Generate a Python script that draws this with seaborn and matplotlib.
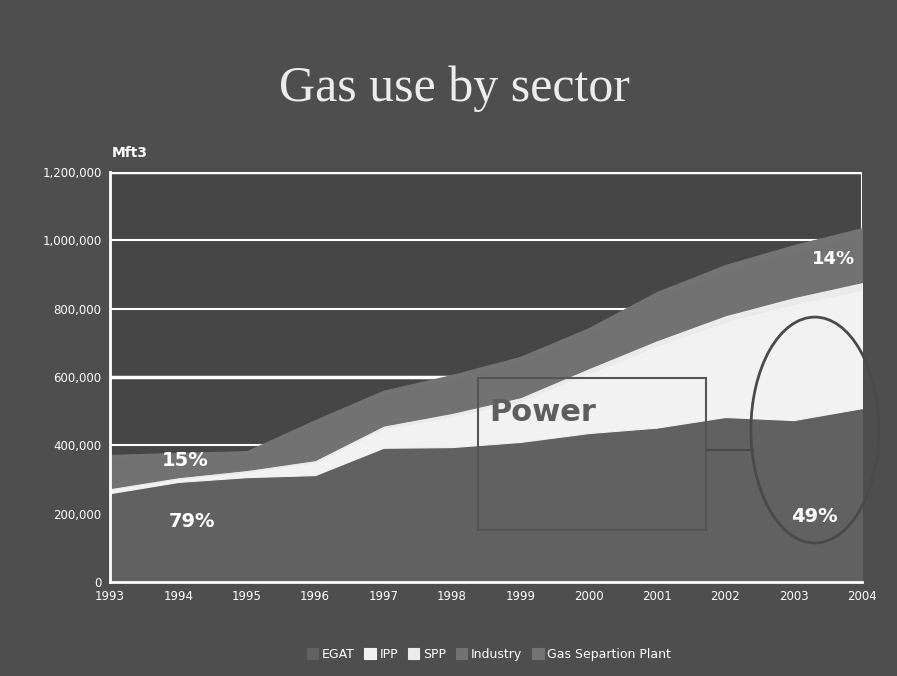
import numpy as np
import pandas as pd
import seaborn as sns
import matplotlib.pyplot as plt
from matplotlib.patches import Rectangle, Ellipse

# Data (Mft3)
years = [1993, 1994, 1995, 1996, 1997, 1998, 1999, 2000, 2001, 2002, 2003, 2004]
egat = [260000, 293000, 307000, 313000, 393000, 395000, 410000, 436000, 452000, 483000, 474000, 509000]
ipp = [12000, 10000, 16000, 38000, 57000, 90000, 119000, 176000, 240000, 280000, 340000, 347000]
spp = [3000, 4000, 5000, 6000, 8000, 10000, 12000, 14000, 16000, 18000, 20000, 22000]
industry = [87000, 61000, 45000, 105000, 88000, 96000, 102000, 99000, 121000, 125000, 128000, 133000]
gas_sep = [10000, 10000, 10000, 12000, 14000, 15000, 16000, 18000, 20000, 22000, 24000, 25000]

sectors = ["EGAT", "IPP", "SPP", "Industry", "Gas Separtion Plant"]
colors = ["#616161", "#f2f2f2", "#ebebeb", "#727272", "#737373"]

y_ticks = [0, 200000, 400000, 600000, 800000, 1000000, 1200000]

df = pd.DataFrame({"year": years, "EGAT": egat, "IPP": ipp, "SPP": spp,
                   "Industry": industry, "Gas Separtion Plant": gas_sep})

sns.set_theme(style="dark", rc={
    "figure.facecolor": "#4e4e4e",
    "axes.facecolor": "#464646",
    "text.color": "white",
    "xtick.color": "white",
    "ytick.color": "white",
})
plt.rcParams["font.family"] = ["DejaVu Sans"]

fig = plt.figure(figsize=(8.97, 6.76), dpi=100)
ax = fig.add_axes([0.1226, 0.139, 0.8384, 0.6065])

polys = ax.stackplot(df["year"], [df[s] for s in sectors], colors=colors, labels=sectors,
                     zorder=2)
# fill the seams between bands with the band's own colour
for p, c in zip(polys, colors):
    p.set_edgecolor(c)
    p.set_linewidth(0.8)

# gridlines under the areas
for v in y_ticks[1:]:
    ax.axhline(v, color="white", lw=2.5 if v in (600000, 1200000) else 1.5, zorder=1)
ax.axvline(2004, color="white", lw=1.5, zorder=1)

ax.set_xlim(1993, 2004)
ax.set_ylim(0, 1200000)
ax.set_xticks(years)
ax.set_xticklabels([str(y) for y in years], fontsize=8.5, color="white")
ax.set_yticks(y_ticks)
ax.set_yticklabels([f"{v:,}" for v in y_ticks], fontsize=8.5, color="white")
ax.tick_params(axis="both", length=4, width=1.5, color="white", direction="inout", pad=4)

for side in ["top", "right"]:
    ax.spines[side].set_visible(False)
for side in ["left", "bottom"]:
    ax.spines[side].set_color("white")
    ax.spines[side].set_linewidth(2)
    ax.spines[side].set_zorder(3)

ax.set_xlabel("")
ax.set_ylabel("")

# unit label and title
fig.text(0.125, 0.768, "Mft3", fontsize=10, fontweight="bold", color="white", ha="left")
fig.text(0.507, 0.868, "Gas use by sector", fontsize=36, color="#ececec",
         family=["Liberation Serif", "DejaVu Serif"], ha="center", va="center")

# percentage annotations
ax.text(1994.2, 160000, "79%", fontsize=14, fontweight="bold", color="white", ha="center")
ax.text(1994.1, 340000, "15%", fontsize=14, fontweight="bold", color="white", ha="center")
ax.text(2003.58, 930000, "14%", fontsize=13, fontweight="bold", color="white", ha="center")
ax.text(2003.3, 175000, "49%", fontsize=14, fontweight="bold", color="white", ha="center")

# "Power" callout box and ellipse
ax.add_patch(Rectangle((1998.38, 152000), 3.34, 445000, fill=False,
                       edgecolor="#555555", lw=1.5, zorder=4))
ax.text(1998.55, 470000, "Power", fontsize=22, fontweight="bold", color="#5e5e5e", zorder=4)
ax.plot([2001.72, 2002.4], [386000, 386000], color="#4a4a4a", lw=1.5, zorder=4)
ax.add_patch(Ellipse((2003.31, 445000), 1.87, 661000, fill=False,
                     edgecolor="#4a4a4a", lw=2, zorder=4, clip_on=False))

# legend
leg = fig.legend(loc="center", bbox_to_anchor=(0.545, 0.032), ncol=5, frameon=False,
                 fontsize=9, handlelength=0.9, handleheight=0.9, handletextpad=0.3,
                 columnspacing=0.8)
for t in leg.get_texts():
    t.set_color("white")

fig.savefig("out.png", dpi=100, facecolor=fig.get_facecolor())
